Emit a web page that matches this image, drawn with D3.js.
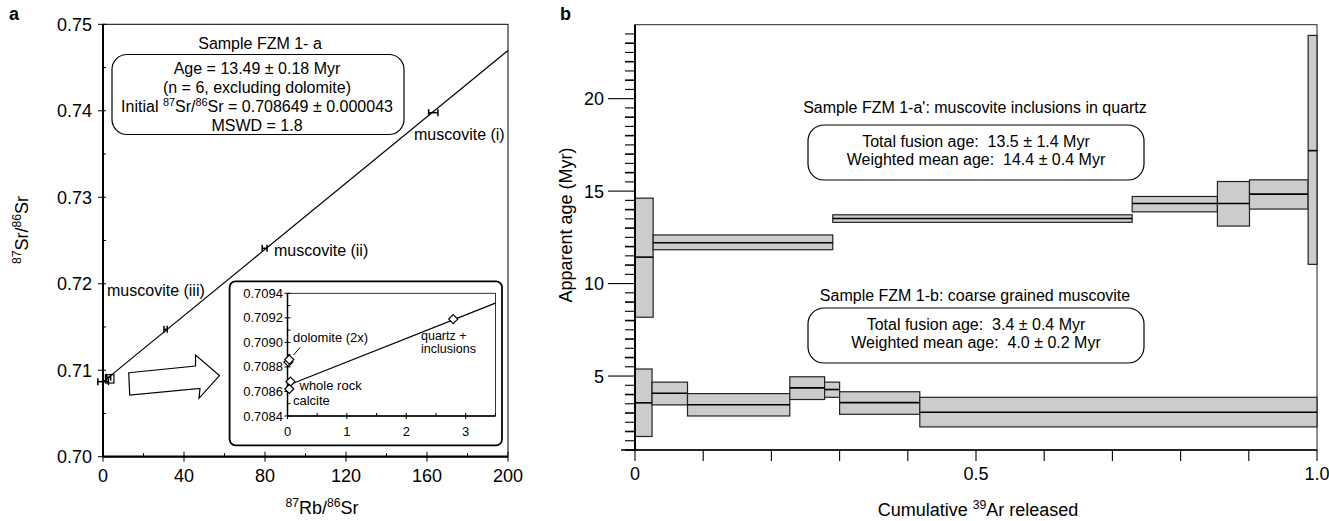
<!DOCTYPE html>
<html>
<head>
<meta charset="utf-8">
<script src="https://cdn.jsdelivr.net/npm/d3@7"></script>
<style>
  html, body { margin: 0; padding: 0; background: #fff; }
  svg { display: block; font-family: "Liberation Sans", Arial, Helvetica, sans-serif; }
  text { white-space: pre; }
</style>
</head>
<body>
<div id="chart"></div>
<script>
// ---- panel a: Rb-Sr isochron ----
const isoIntercept = 0.708649;
const isoSlope = 0.00019158;
const rbPoints = [
  { label: 'muscovite (i)',   x: 163.1, y: 0.73978, xErr: 2.3, yErr: 0.0002 },
  { label: 'muscovite (ii)',  x: 79.8,  y: 0.72410, xErr: 1.2, yErr: 0.0002 },
  { label: 'muscovite (iii)', x: 30.9,  y: 0.71473, xErr: 0.8, yErr: 0.0003 },
  { label: 'quartz + inclusions', x: 2.79, y: 0.70919, xErr: 1.0, yErr: 0.0003 },
  { label: 'whole rock', x: 0.05, y: 0.70868, xErr: 2.6, yErr: 0.0002 }
];
const insetPoints = [
  { label: 'dolomite', x: 0.015, y: 0.70884, yErr: 0.00004 },
  { label: 'dolomite', x: 0.03,  y: 0.70886, yErr: 0.00004 },
  { label: 'whole rock', x: 0.05, y: 0.70868, yErr: 0.00001 },
  { label: 'calcite', x: 0.03, y: 0.70862, yErr: 0.00001 },
  { label: 'quartz + inclusions', x: 2.79, y: 0.70919, yErr: 0.00001 }
];
const xTicksA = [0, 40, 80, 120, 160, 200];
const yTicksA = [0.70, 0.71, 0.72, 0.73, 0.74, 0.75];
const xTicksInset = [0, 1, 2, 3];
const yTicksInset = [0.7084, 0.7086, 0.7088, 0.7090, 0.7092, 0.7094];
const zoomSquare = { x0: 1.2, x1: 5.4, y0: 0.70852, y1: 0.70948 };
const arrowPts = [[12.7, 0.70971], [45.7, 0.71049], [45.7, 0.71176], [57.5, 0.70937],
                  [47.4, 0.70675], [47.9, 0.70791], [13.2, 0.70713]];

// ---- panel b: Ar-Ar age spectra ----
const cumA = [0, 0.0266, 0.290, 0.729, 0.854, 0.901, 0.987, 1.0];
const ageA = [11.43, 12.21, 13.52, 14.33, 14.33, 14.84, 17.19];
const loA  = [8.18, 11.83, 13.31, 13.88, 13.11, 14.03, 11.04];
const hiA  = [14.62, 12.63, 13.72, 14.71, 15.52, 15.61, 23.42];
const cumB = [0, 0.025, 0.077, 0.227, 0.278, 0.300, 0.4176, 1.0];
const ageB = [3.55, 4.07, 3.45, 4.36, 4.27, 3.56, 3.04];
const loB  = [1.73, 3.44, 2.84, 3.73, 3.85, 2.93, 2.25];
const hiB  = [5.38, 4.67, 4.05, 4.96, 4.67, 4.15, 3.85];
const xTicksB = d3.range(0, 11).map(i => i / 10);
const yTicksB = [5, 10, 15, 20];

const W = 1329, H = 521;
const svg = d3.select('#chart').append('svg').attr('width', W).attr('height', H);

// text with superscripts: parts = [[str, isSup], ...]
function rich(g, x, y, parts, size, anchor) {
  const t = g.append('text').attr('x', x).attr('y', y)
    .attr('font-size', size).attr('text-anchor', anchor || 'middle');
  let shifted = false;
  parts.forEach(([s, sup]) => {
    const ts = t.append('tspan').text(s);
    if (sup && !shifted) { ts.attr('font-size', size * 0.68).attr('dy', -size * 0.38); shifted = true; }
    else if (!sup && shifted) { ts.attr('dy', size * 0.38); shifted = false; }
    else if (sup) ts.attr('font-size', size * 0.68);
  });
  return t;
}

// ================= panel a =================
const xA = d3.scaleLinear().domain([0, 200]).range([103, 508]);
const yA = d3.scaleLinear().domain([0.70, 0.75]).range([456.7, 24.3]);
const ga = svg.append('g');

ga.append('text').attr('x', 9).attr('y', 20).attr('font-size', 18)
  .attr('font-weight', 'bold').text('a');

// frame
ga.append('rect').attr('x', xA(0)).attr('y', yA(0.75))
  .attr('width', xA(200) - xA(0)).attr('height', yA(0.70) - yA(0.75))
  .attr('fill', 'none').attr('stroke', '#000').attr('stroke-width', 1);
ga.append('line').attr('x1', xA(0)).attr('x2', xA(0)).attr('y1', yA(0.75)).attr('y2', yA(0.70))
  .attr('stroke', '#000').attr('stroke-width', 2);
ga.append('line').attr('x1', xA(0)).attr('x2', xA(200)).attr('y1', yA(0.70)).attr('y2', yA(0.70))
  .attr('stroke', '#000').attr('stroke-width', 2.2);

// x ticks
d3.range(0, 201, 20).forEach(v => {
  const major = v % 40 === 0;
  ga.append('line').attr('x1', xA(v)).attr('x2', xA(v))
    .attr('y1', yA(0.70) - (major ? 5 : 3.5)).attr('y2', yA(0.70) + (major ? 5 : 0))
    .attr('stroke', '#000').attr('stroke-width', 1);
});
ga.selectAll('.xtA').data(xTicksA).enter().append('text')
  .attr('x', d => xA(d)).attr('y', 482).attr('font-size', 18)
  .attr('text-anchor', 'middle').text(d => d);
// y ticks
d3.range(0, 11).map(i => 0.70 + i * 0.005).forEach((v, i) => {
  const major = i % 2 === 0;
  ga.append('line').attr('x1', xA(0) - (major ? 5 : 0)).attr('x2', xA(0) + 3)
    .attr('y1', yA(v)).attr('y2', yA(v)).attr('stroke', '#000').attr('stroke-width', 1);
});
ga.selectAll('.ytA').data(yTicksA).enter().append('text')
  .attr('x', 92).attr('y', d => yA(d) + 6.5).attr('font-size', 18)
  .attr('text-anchor', 'end').text(d => d.toFixed(2));

// axis titles
rich(ga, 322, 514, [['87', true], ['Rb/', false], ['86', true], ['Sr', false]], 18);
rich(ga.append('g').attr('transform', 'translate(28,230) rotate(-90)'), 0, 0,
  [['87', true], ['Sr/', false], ['86', true], ['Sr', false]], 18);

// isochron line
ga.append('line').attr('x1', xA(0)).attr('y1', yA(isoIntercept))
  .attr('x2', xA(200)).attr('y2', yA(isoIntercept + isoSlope * 200))
  .attr('stroke', '#000').attr('stroke-width', 1.2);

// data points with error bars
rbPoints.forEach(p => {
  const e = ga.append('g').attr('stroke', '#000').attr('stroke-width', 1.5);
  const xl = xA(p.x - p.xErr), xr = xA(p.x + p.xErr), yy = yA(p.y);
  e.append('line').attr('x1', xl).attr('x2', xr).attr('y1', yy).attr('y2', yy);
  e.append('line').attr('x1', xl).attr('x2', xl).attr('y1', yy - 3.5).attr('y2', yy + 3.5);
  e.append('line').attr('x1', xr).attr('x2', xr).attr('y1', yy - 3.5).attr('y2', yy + 3.5);
});
ga.append('rect').attr('x', xA(zoomSquare.x0)).attr('y', yA(zoomSquare.y1))
  .attr('width', xA(zoomSquare.x1) - xA(zoomSquare.x0))
  .attr('height', yA(zoomSquare.y0) - yA(zoomSquare.y1))
  .attr('fill', 'none').attr('stroke', '#000').attr('stroke-width', 1.2);

// labels
ga.append('text').attr('x', 414).attr('y', 140).attr('font-size', 16).text('muscovite (i)');
ga.append('text').attr('x', 274).attr('y', 256).attr('font-size', 16).text('muscovite (ii)');
ga.append('text').attr('x', 107).attr('y', 296).attr('font-size', 16).text('muscovite (iii)');

// summary box
ga.append('text').attr('x', 260).attr('y', 49).attr('font-size', 16)
  .attr('text-anchor', 'middle').text('Sample FZM 1- a');
ga.append('rect').attr('x', 112).attr('y', 54.5).attr('width', 292).attr('height', 80)
  .attr('rx', 15).attr('fill', '#fff').attr('stroke', '#000').attr('stroke-width', 1.2);
ga.append('text').attr('x', 257).attr('y', 74).attr('font-size', 16)
  .attr('text-anchor', 'middle').text('Age = 13.49 \u00b1 0.18 Myr');
ga.append('text').attr('x', 257).attr('y', 93).attr('font-size', 16)
  .attr('text-anchor', 'middle').text('(n = 6, excluding dolomite)');
rich(ga, 257, 112, [['Initial ', false], ['87', true], ['Sr/', false], ['86', true],
  ['Sr = 0.708649 \u00b1 0.000043', false]], 16);
ga.append('text').attr('x', 257).attr('y', 131).attr('font-size', 16)
  .attr('text-anchor', 'middle').text('MSWD = 1.8');

// arrow
ga.append('path')
  .attr('d', d3.line().x(d => xA(d[0])).y(d => yA(d[1])).curve(d3.curveLinearClosed)(arrowPts))
  .attr('fill', '#fff').attr('stroke', '#000').attr('stroke-width', 1.2);

// inset
const xI = d3.scaleLinear().domain([0, 3.5]).range([287.5, 495.4]);
const yI = d3.scaleLinear().domain([0.7084, 0.7094]).range([416, 293.3]);
const gi = ga.append('g');
gi.append('rect').attr('x', 229.6).attr('y', 281.3).attr('width', 272.4).attr('height', 164)
  .attr('rx', 6).attr('fill', '#fff').attr('stroke', '#000').attr('stroke-width', 1.8);
gi.append('rect').attr('x', xI(0)).attr('y', yI(0.7094))
  .attr('width', xI(3.5) - xI(0)).attr('height', yI(0.7084) - yI(0.7094))
  .attr('fill', 'none').attr('stroke', '#000').attr('stroke-width', 0.8);
gi.append('line').attr('x1', xI(0)).attr('x2', xI(0)).attr('y1', yI(0.7094)).attr('y2', yI(0.7084))
  .attr('stroke', '#000').attr('stroke-width', 1.5);
gi.append('line').attr('x1', xI(0)).attr('x2', xI(3.5)).attr('y1', yI(0.7084)).attr('y2', yI(0.7084))
  .attr('stroke', '#000').attr('stroke-width', 1.5);
d3.range(0, 8).map(i => i * 0.5).forEach((v, i) => {
  const major = i % 2 === 0;
  gi.append('line').attr('x1', xI(v)).attr('x2', xI(v))
    .attr('y1', yI(0.7084) - 3).attr('y2', yI(0.7084) + (major ? 3 : 0))
    .attr('stroke', '#000').attr('stroke-width', 1);
});
gi.selectAll('.xtI').data(xTicksInset).enter().append('text')
  .attr('x', d => xI(d)).attr('y', 436).attr('font-size', 13)
  .attr('text-anchor', 'middle').text(d => d);
d3.range(0, 11).map(i => 0.7084 + i * 0.0001).forEach((v, i) => {
  const major = i % 2 === 0;
  gi.append('line').attr('x1', xI(0) - (major ? 3 : 0)).attr('x2', xI(0) + 3)
    .attr('y1', yI(v)).attr('y2', yI(v)).attr('stroke', '#000').attr('stroke-width', 1);
});
gi.selectAll('.ytI').data(yTicksInset).enter().append('text')
  .attr('x', 283).attr('y', d => yI(d) + 4.5).attr('font-size', 13)
  .attr('text-anchor', 'end').text(d => d.toFixed(4));
gi.append('line').attr('x1', xI(0)).attr('y1', yI(isoIntercept))
  .attr('x2', xI(3.5)).attr('y2', yI(isoIntercept + isoSlope * 3.5))
  .attr('stroke', '#000').attr('stroke-width', 1.2);
insetPoints.forEach(p => {
  const cx = xI(p.x), cy = yI(p.y);
  gi.append('line').attr('x1', cx).attr('x2', cx).attr('y1', yI(p.y - p.yErr)).attr('y2', yI(p.y + p.yErr))
    .attr('stroke', '#000').attr('stroke-width', 1.3);
  gi.append('path').attr('d', `M${cx},${cy - 4.5}L${cx + 4.5},${cy}L${cx},${cy + 4.5}L${cx - 4.5},${cy}Z`)
    .attr('fill', '#fff').attr('stroke', '#000').attr('stroke-width', 1.2);
});
gi.append('text').attr('x', 293).attr('y', 342).attr('font-size', 13).text('dolomite (2x)');
gi.append('line').attr('x1', 293.6).attr('y1', 355).attr('x2', 300).attr('y2', 347.5)
  .attr('stroke', '#000').attr('stroke-width', 1);
gi.append('text').attr('x', 299.5).attr('y', 390).attr('font-size', 13).text('whole rock');
gi.append('text').attr('x', 293).attr('y', 404.5).attr('font-size', 13).text('calcite');
gi.append('text').attr('x', 421).attr('y', 340).attr('font-size', 12.5).text('quartz +');
gi.append('text').attr('x', 421).attr('y', 353).attr('font-size', 12.5).text('inclusions');

// ================= panel b =================
const xB = d3.scaleLinear().domain([0, 1]).range([635, 1317]);
const yB = d3.scaleLinear().domain([1, 24]).range([450, 24.7]);
const gb = svg.append('g');

gb.append('text').attr('x', 560).attr('y', 20).attr('font-size', 18)
  .attr('font-weight', 'bold').text('b');

gb.append('rect').attr('x', xB(0)).attr('y', yB(24)).attr('width', xB(1) - xB(0))
  .attr('height', yB(1) - yB(24)).attr('fill', 'none').attr('stroke', '#222').attr('stroke-width', 1);

function spectrum(cum, age, lo, hi) {
  const rows = age.map((a, i) => ({ x0: cum[i], x1: cum[i + 1], mid: a, lo: lo[i], hi: hi[i] }));
  const g = gb.append('g');
  g.selectAll('rect').data(rows).enter().append('rect')
    .attr('x', d => xB(d.x0)).attr('width', d => xB(d.x1) - xB(d.x0))
    .attr('y', d => yB(d.hi)).attr('height', d => yB(d.lo) - yB(d.hi))
    .attr('fill', '#cccccc').attr('stroke', '#222').attr('stroke-width', 1.2);
  g.selectAll('line').data(rows).enter().append('line')
    .attr('x1', d => xB(d.x0)).attr('x2', d => xB(d.x1))
    .attr('y1', d => yB(d.mid)).attr('y2', d => yB(d.mid))
    .attr('stroke', '#000').attr('stroke-width', 1.6);
}
spectrum(cumA, ageA, loA, hiA);
spectrum(cumB, ageB, loB, hiB);

// axes
gb.append('line').attr('x1', xB(0)).attr('x2', xB(0)).attr('y1', yB(24)).attr('y2', yB(1))
  .attr('stroke', '#000').attr('stroke-width', 2);
gb.append('line').attr('x1', xB(0) - 14).attr('x2', xB(1)).attr('y1', yB(1)).attr('y2', yB(1))
  .attr('stroke', '#000').attr('stroke-width', 1.6);
d3.range(2, 48).map(i => i / 2).forEach(v => {
  const major = yTicksB.includes(v);
  const len = major ? 27 : (v === 24 ? 16 : 10);
  gb.append('line').attr('x1', xB(0) - len).attr('x2', xB(0))
    .attr('y1', yB(v)).attr('y2', yB(v)).attr('stroke', '#000')
    .attr('stroke-width', Number.isInteger(v) && !major ? 1.6 : 1.1);
});
gb.selectAll('.ytB').data(yTicksB).enter().append('text')
  .attr('x', 604).attr('y', d => yB(d) + 6.5).attr('font-size', 18)
  .attr('text-anchor', 'end').text(d => d);
xTicksB.forEach(v => {
  gb.append('line').attr('x1', xB(v)).attr('x2', xB(v)).attr('y1', yB(1)).attr('y2', yB(1) + 11)
    .attr('stroke', '#000').attr('stroke-width', 1.1);
});
gb.selectAll('.xtB').data([0, 0.5, 1]).enter().append('text')
  .attr('x', d => xB(d)).attr('y', 480).attr('font-size', 18)
  .attr('text-anchor', 'middle').text(d => d === 0 ? '0' : d.toFixed(1));

rich(gb, 978, 516, [['Cumulative ', false], ['39', true], ['Ar released', false]], 18);
gb.append('text').attr('transform', 'translate(572,225) rotate(-90)').attr('font-size', 18)
  .attr('text-anchor', 'middle').text('Apparent age (Myr)');

// annotations
function infoBox(title, titleY, boxY, lines) {
  gb.append('text').attr('x', 975).attr('y', titleY).attr('font-size', 16)
    .attr('text-anchor', 'middle').text(title);
  gb.append('rect').attr('x', 808).attr('y', boxY).attr('width', 336).attr('height', 55)
    .attr('rx', 16).attr('fill', '#fff').attr('stroke', '#000').attr('stroke-width', 1.2);
  lines.forEach((l, i) => gb.append('text').attr('x', 976).attr('y', boxY + 22 + i * 18)
    .attr('font-size', 16).attr('text-anchor', 'middle').text(l));
}
infoBox("Sample FZM 1-a': muscovite inclusions in quartz", 113, 125,
  ['Total fusion age:  13.5 \u00b1 1.4 Myr', 'Weighted mean age:  14.4 \u00b1 0.4 Myr']);
infoBox('Sample FZM 1-b: coarse grained muscovite', 301, 308,
  ['Total fusion age:  3.4 \u00b1 0.4 Myr', 'Weighted mean age:  4.0 \u00b1 0.2 Myr']);
</script>
</body>
</html>
